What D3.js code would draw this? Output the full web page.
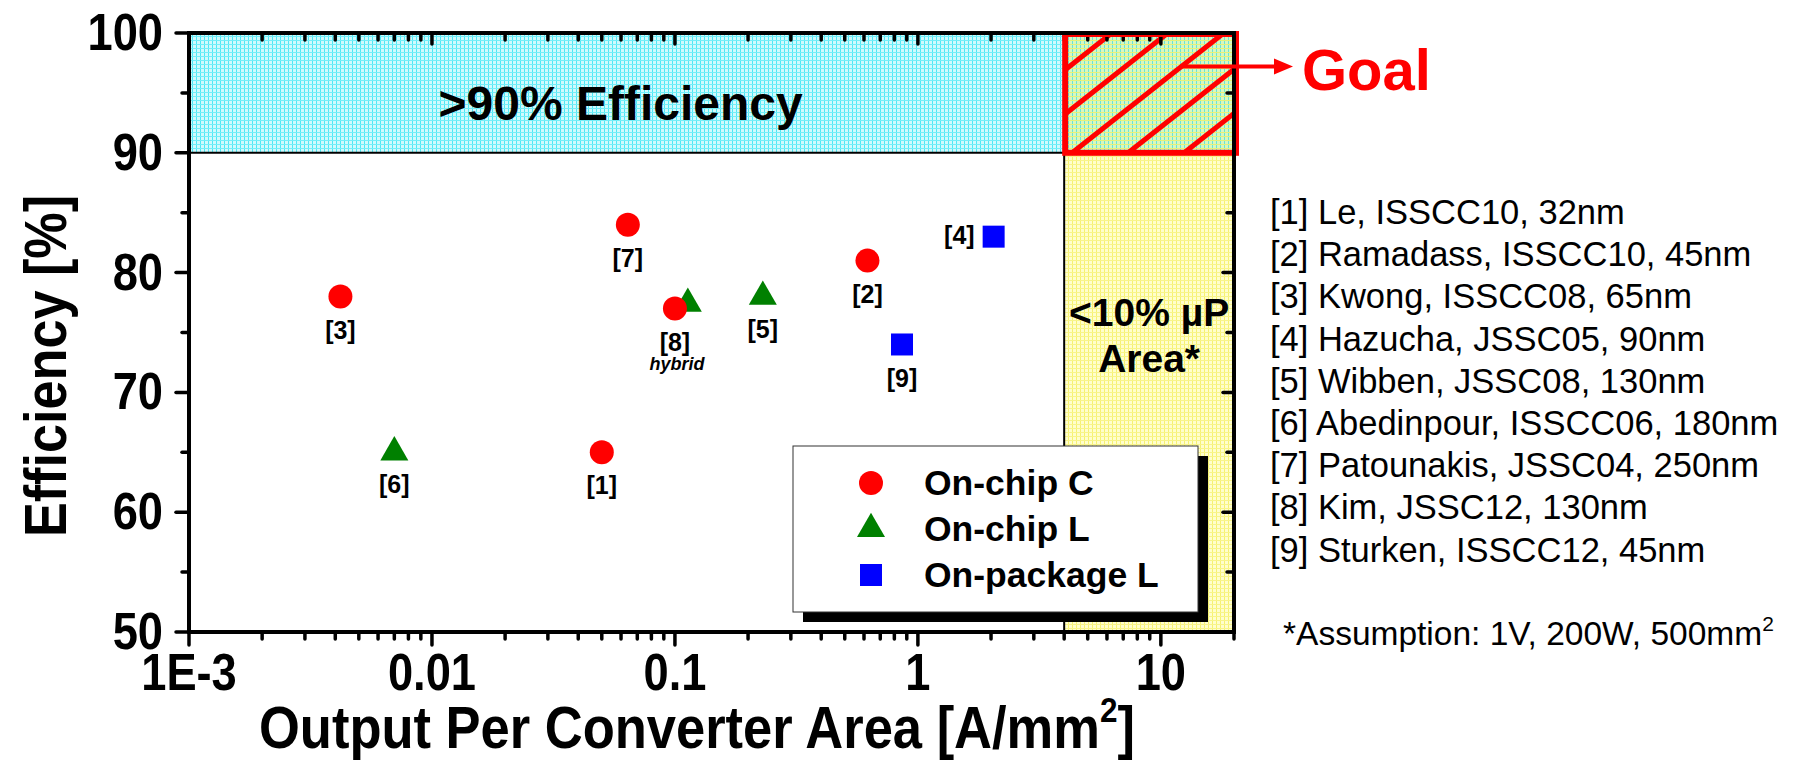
<!DOCTYPE html>
<html>
<head>
<meta charset="utf-8">
<script src="https://cdn.jsdelivr.net/npm/d3@7"></script>
<style>
  body { margin: 0; background: #fff; }
  svg { display: block; }
  text { font-family: Arial, "Liberation Sans", sans-serif; }
</style>
</head>
<body>
<svg id="chart" width="1815" height="765"></svg>
<script>
// ---- Survey data: output current density (A/mm^2) vs. peak efficiency (%) ----
const capRefs    = ["[1]", "[2]", "[3]", "[7]", "[8]"];
const capCurrent = [0.05, 0.62, 0.0042, 0.064, 0.1];
const capEff     = [65, 81, 78, 84, 77];

const indRefs    = ["[5]", "[6]", "[8]"];
const indCurrent = [0.23, 0.007, 0.113];
const indEff     = [78, 65, 77.4];

const pkgRefs    = ["[4]", "[9]"];
const pkgCurrent = [2.05, 0.86];
const pkgEff     = [83, 74];

// Targets: efficiency above 90 % and converter area below 10 % of the die
const effTarget  = 90;
const densityMin = 4;

const xDomain = [0.001, 20];
const yDomain = [50, 100];
const xMajorTicks  = [0.001, 0.01, 0.1, 1, 10];
const xTickLabels  = ["1E-3", "0.01", "0.1", "1", "10"];
const yMajorTicks  = [50, 60, 70, 80, 90, 100];
const yMinorTicks  = [55, 65, 75, 85, 95];

const seriesNames = ["On-chip C", "On-chip L", "On-package L"];
const seriesColors = ["#ff0000", "#008000", "#0000ff"];

const references = [
  "[1] Le, ISSCC10, 32nm",
  "[2] Ramadass, ISSCC10, 45nm",
  "[3] Kwong, ISSCC08, 65nm",
  "[4] Hazucha, JSSC05, 90nm",
  "[5] Wibben, JSSC08, 130nm",
  "[6] Abedinpour, ISSCC06, 180nm",
  "[7] Patounakis, JSSC04, 250nm",
  "[8] Kim, JSSC12, 130nm",
  "[9] Sturken, ISSCC12, 45nm"
];

// ---- Layout ----
const svg = d3.select("#chart");
const plot = { left: 189, right: 1234, top: 33, bottom: 632 };

const x = d3.scaleLog().domain(xDomain).range([plot.left, plot.right]);
const y = d3.scaleLinear().domain(yDomain).range([plot.bottom, plot.top]);

// minor log ticks: 2..9 of every decade inside the domain
const xMinorTicks = [];
for (let e = -3; e <= 1; e++) {
  for (let m = 2; m <= 9; m++) {
    const v = m * Math.pow(10, e);
    if (v <= xDomain[1] + 1e-9) xMinorTicks.push(v);
  }
}

// ---- Fill patterns ----
const defs = svg.append("defs");
function plaid(id, base, vLine, hLine) {
  const p = defs.append("pattern").attr("id", id)
    .attr("patternUnits", "userSpaceOnUse").attr("width", 4).attr("height", 4);
  p.append("rect").attr("width", 4).attr("height", 4).attr("fill", base);
  p.append("rect").attr("x", 0).attr("y", 0).attr("width", 1).attr("height", 4).attr("fill", vLine);
  p.append("rect").attr("x", 0).attr("y", 0).attr("width", 4).attr("height", 1).attr("fill", hLine);
}
plaid("cyanFill", "#d0fafd", "#4fe8f5", "#74eef8");
plaid("yellowFill", "#fffecc", "#f6f270", "#f8f48a");
plaid("goalFill", "#d6f7c2", "#6ae5d6", "#e6f276");

defs.append("clipPath").attr("id", "goalClip")
  .append("rect")
  .attr("x", x(densityMin)).attr("y", y(100))
  .attr("width", x(xDomain[1]) - x(densityMin)).attr("height", y(effTarget) - y(100));

// ---- Shaded regions ----
svg.append("rect")
  .attr("x", x(xDomain[0])).attr("y", y(100))
  .attr("width", x(densityMin) - x(xDomain[0])).attr("height", y(effTarget) - y(100))
  .attr("fill", "url(#cyanFill)");
svg.append("rect")
  .attr("x", x(densityMin)).attr("y", y(effTarget))
  .attr("width", x(xDomain[1]) - x(densityMin)).attr("height", y(50) - y(effTarget))
  .attr("fill", "url(#yellowFill)");
svg.append("rect")
  .attr("x", x(densityMin)).attr("y", y(100))
  .attr("width", x(xDomain[1]) - x(densityMin)).attr("height", y(effTarget) - y(100))
  .attr("fill", "url(#goalFill)");

// boundary lines of the target regions
svg.append("line")
  .attr("x1", x(xDomain[0])).attr("x2", x(densityMin))
  .attr("y1", y(effTarget)).attr("y2", y(effTarget))
  .attr("stroke", "#000").attr("stroke-width", 2);
svg.append("line")
  .attr("x1", x(densityMin)).attr("x2", x(densityMin))
  .attr("y1", y(effTarget)).attr("y2", y(50))
  .attr("stroke", "#000").attr("stroke-width", 2);

// red hatching in the goal corner
const gx0 = x(densityMin), gx1 = x(xDomain[1]), gyTop = y(100), gyBot = y(effTarget);
const hatchSlope = 0.79, hatchGap = 56;
const hatch = svg.append("g").attr("clip-path", "url(#goalClip)");
for (let k = 0; k < 7; k++) {
  const bx = gx0 - 104 + k * hatchGap;
  const h = gyBot - gyTop;
  hatch.append("line")
    .attr("x1", bx).attr("y1", gyBot)
    .attr("x2", bx + h / hatchSlope).attr("y2", gyTop)
    .attr("stroke", "#ff0000").attr("stroke-width", 5);
}

// ---- Axes frame and ticks ----
function tickLines(values, scale, orient, len) {
  const g = svg.append("g");
  values.forEach(v => {
    let x1, y1, x2, y2;
    if (orient === "bottom") { x1 = x2 = scale(v); y1 = plot.bottom; y2 = plot.bottom + len; }
    if (orient === "top")    { x1 = x2 = scale(v); y1 = plot.top;    y2 = plot.top + len; }
    if (orient === "left")   { y1 = y2 = scale(v); x1 = plot.left;   x2 = plot.left - len; }
    if (orient === "right")  { y1 = y2 = scale(v); x1 = plot.right;  x2 = plot.right - len; }
    g.append("line").attr("x1", x1).attr("y1", y1).attr("x2", x2).attr("y2", y2)
      .attr("stroke", "#000").attr("stroke-width", 3.5).attr("stroke-linecap", "round");
  });
}
tickLines(xMajorTicks, x, "bottom", 13);
tickLines(xMinorTicks.filter(v => !xMajorTicks.includes(v)), x, "bottom", 7);
tickLines(xMajorTicks, x, "top", 11);
tickLines(xMinorTicks.filter(v => !xMajorTicks.includes(v)), x, "top", 7);
tickLines(yMajorTicks, y, "left", 13);
tickLines(yMinorTicks, y, "left", 7);
tickLines(yMajorTicks, y, "right", 11);
tickLines(yMinorTicks, y, "right", 7);

// goal box outline (drawn over the fill, under the frame)
svg.append("rect")
  .attr("x", gx0 + 1).attr("y", gyTop + 1)
  .attr("width", gx1 - gx0 + 1).attr("height", gyBot - gyTop - 1)
  .attr("fill", "none").attr("stroke", "#ff0000").attr("stroke-width", 6);

svg.append("rect")
  .attr("x", plot.left).attr("y", plot.top)
  .attr("width", plot.right - plot.left).attr("height", plot.bottom - plot.top)
  .attr("fill", "none").attr("stroke", "#000").attr("stroke-width", 4);

// tick labels (bold, condensed)
const condense = 0.87;
xMajorTicks.forEach((v, i) => {
  svg.append("text")
    .attr("transform", `translate(${x(v)},${690}) scale(${condense},1)`)
    .attr("text-anchor", "middle")
    .attr("font-size", 52).attr("font-weight", "bold")
    .text(xTickLabels[i]);
});
yMajorTicks.forEach(v => {
  svg.append("text")
    .attr("transform", `translate(${plot.left - 26},${y(v) + 17}) scale(${condense},1)`)
    .attr("text-anchor", "end")
    .attr("font-size", 52).attr("font-weight", "bold")
    .text(v);
});

// axis titles
const xt = svg.append("text")
  .attr("transform", `translate(${697},${748}) scale(0.875,1)`)
  .attr("text-anchor", "middle")
  .attr("font-size", 60).attr("font-weight", "bold");
xt.append("tspan").text("Output Per Converter Area [A/mm");
xt.append("tspan").attr("font-size", 36).attr("dy", -26).text("2");
xt.append("tspan").attr("dy", 26).text("]");

svg.append("text")
  .attr("transform", `translate(${66},${366}) rotate(-90) scale(0.87,1)`)
  .attr("text-anchor", "middle")
  .attr("font-size", 60).attr("font-weight", "bold")
  .text("Efficiency [%]");

// ---- Region annotations ----
svg.append("text")
  .attr("x", (x(xDomain[0]) + x(densityMin)) / 2 - 6).attr("y", 120)
  .attr("text-anchor", "middle")
  .attr("font-size", 48).attr("font-weight", "bold")
  .text(">90% Efficiency");

const areaCx = (x(densityMin) + x(xDomain[1])) / 2;
svg.append("text")
  .attr("x", areaCx).attr("y", 326)
  .attr("text-anchor", "middle").attr("font-size", 39).attr("font-weight", "bold")
  .text("<10% µP");
svg.append("text")
  .attr("x", areaCx).attr("y", 372)
  .attr("text-anchor", "middle").attr("font-size", 39).attr("font-weight", "bold")
  .text("Area*");

// goal arrow
const arrowY = y(97.2);
svg.append("line")
  .attr("x1", x(12)).attr("y1", arrowY)
  .attr("x2", plot.right + 44).attr("y2", arrowY)
  .attr("stroke", "#ff0000").attr("stroke-width", 4);
svg.append("path")
  .attr("d", `M${plot.right + 59},${arrowY} L${plot.right + 40},${arrowY - 8} L${plot.right + 40},${arrowY + 8} Z`)
  .attr("fill", "#ff0000");
svg.append("text")
  .attr("x", plot.right + 68).attr("y", 90)
  .attr("fill", "#ff0000").attr("font-size", 58).attr("font-weight", "bold")
  .text("Goal");

// ---- Data marks ----
const symCircle   = d3.symbol().type(d3.symbolCircle).size(Math.PI * 12 * 12);
const symTriangle = d3.symbol().type(d3.symbolTriangle).size(340);
const symSquare   = d3.symbol().type(d3.symbolSquare).size(22 * 22);

const marks = svg.append("g");
// on-chip inductor points first so the hybrid circle overlaps its triangle
indCurrent.forEach((c, i) => {
  marks.append("path").attr("d", symTriangle())
    .attr("transform", `translate(${x(c)},${y(indEff[i])})`)
    .attr("fill", seriesColors[1]);
});
capCurrent.forEach((c, i) => {
  marks.append("path").attr("d", symCircle())
    .attr("transform", `translate(${x(c)},${y(capEff[i])})`)
    .attr("fill", seriesColors[0]);
});
pkgCurrent.forEach((c, i) => {
  marks.append("path").attr("d", symSquare())
    .attr("transform", `translate(${x(c)},${y(pkgEff[i])})`)
    .attr("fill", seriesColors[2]);
});

// reference tags under each mark ([4] sits to the left of its square)
const tagSize = 25;
function tag(label, cx, cy) {
  marks.append("text")
    .attr("x", cx).attr("y", cy)
    .attr("text-anchor", "middle").attr("font-size", tagSize).attr("font-weight", "bold")
    .text(label);
}
capRefs.forEach((r, i) => tag(r, x(capCurrent[i]), y(capEff[i]) + 42));
indRefs.forEach((r, i) => { if (r !== "[8]") tag(r, x(indCurrent[i]), y(indEff[i]) + 41); });
pkgRefs.forEach((r, i) => {
  if (r === "[4]") {
    marks.append("text")
      .attr("x", x(pkgCurrent[i]) - 19).attr("y", y(pkgEff[i]) + 7)
      .attr("text-anchor", "end").attr("font-size", tagSize).attr("font-weight", "bold")
      .text(r);
  } else {
    tag(r, x(pkgCurrent[i]), y(pkgEff[i]) + 43);
  }
});
const hybridIdx = capRefs.indexOf("[8]");
marks.append("text")
  .attr("x", x(capCurrent[hybridIdx]) + 2).attr("y", y(capEff[hybridIdx]) + 61)
  .attr("text-anchor", "middle").attr("font-size", 18)
  .attr("font-weight", "bold").attr("font-style", "italic")
  .text("hybrid");

// ---- Legend ----
const lg = svg.append("g").attr("transform", "translate(793,446)");
lg.append("rect").attr("x", 10).attr("y", 10).attr("width", 405).attr("height", 166).attr("fill", "#000");
lg.append("rect").attr("x", 0).attr("y", 0).attr("width", 405).attr("height", 166)
  .attr("fill", "#fff").attr("stroke", "#333").attr("stroke-width", 1);
const legendSyms = [symCircle, symTriangle, symSquare];
seriesNames.forEach((name, i) => {
  const cy = 37 + i * 46;
  lg.append("path").attr("d", legendSyms[i]())
    .attr("transform", `translate(78,${cy})`)
    .attr("fill", seriesColors[i]);
  lg.append("text").attr("x", 131).attr("y", cy + 12)
    .attr("font-size", 35.5).attr("font-weight", "bold")
    .text(name);
});

// ---- Reference list ----
const refList = svg.append("g");
references.forEach((r, i) => {
  refList.append("text")
    .attr("x", 1270).attr("y", 224 + i * 42.2)
    .attr("font-size", 34.5)
    .text(r);
});
const note = refList.append("text").attr("x", 1283).attr("y", 645).attr("font-size", 33.5);
note.append("tspan").text("*Assumption: 1V, 200W, 500mm");
note.append("tspan").attr("font-size", 21).attr("dy", -14).text("2");
</script>
</body>
</html>
